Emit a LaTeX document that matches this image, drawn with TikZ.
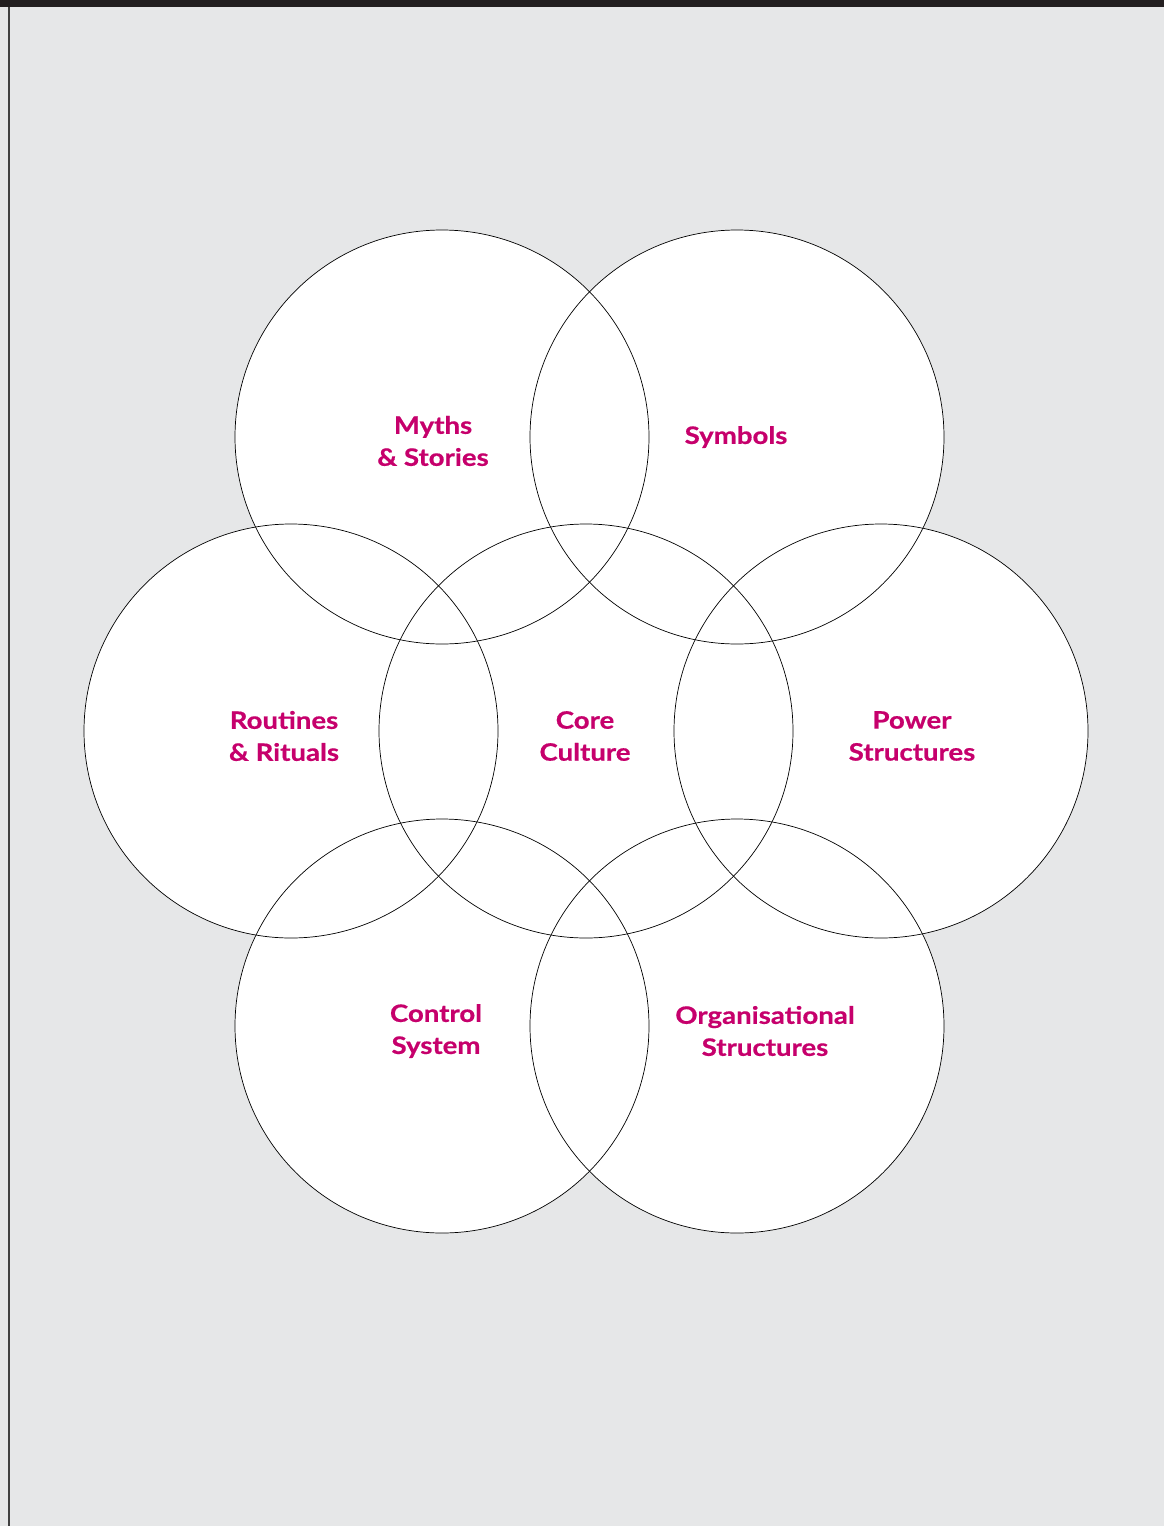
\documentclass[tikz,border=0pt]{standalone}
\usepackage{fontspec}
\setmainfont{Lato}[BoldFeatures={FakeStretch=1.15,FakeBold=0.6}]
\definecolor{pagegrey}{HTML}{E6E7E8}
\definecolor{barblack}{HTML}{231F20}
\definecolor{labelmagenta}{RGB}{198,0,108}
\begin{document}
\begin{tikzpicture}[x=1pt,y=-1pt,
  ringline/.style={draw=black, line width=0.7pt},
  label/.style={text=labelmagenta, font=\fontsize{24}{32}\selectfont\bfseries, align=center}]
  % page background and frame
  \fill[pagegrey] (0,0) rectangle (1164,1526);
  \useasboundingbox (0,0) rectangle (1164,1526);
  \fill[barblack] (0,0) rectangle (1164,7);
  \fill[black!75] (7.5,7) rectangle (9.5,1526);
  % circle centres
  \coordinate (cmyth) at (442,437);
  \coordinate (csym)  at (737,437);
  \coordinate (crout) at (291,731);
  \coordinate (ccore) at (586,731);
  \coordinate (cpow)  at (881,731);
  \coordinate (cctrl) at (442,1026);
  \coordinate (corg)  at (737,1026);
  % white discs first, outlines on top
  \foreach \c in {cmyth,csym,crout,ccore,cpow,cctrl,corg}
    \fill[white] (\c) circle[radius=207];
  \foreach \c in {cmyth,csym,crout,ccore,cpow,cctrl,corg}
    \draw[ringline] (\c) circle[radius=207];
  % labels
  \node[label] (myth) at (433,441) {Myths\\\& Stories};
  \node[label] (sym)  at (736,437) {Symbols};
  \node[label] (rout) at (284,736) {Routines\\\& Rituals};
  \node[label] (core) at (585,736) {Core\\Culture};
  \node[label] (pow)  at (912,736) {Power\\Structures};
  \node[label] (ctrl) at (436,1031) {Control\\System};
  \node[label] (org)  at (765,1031) {Organisational\\Structures};
\end{tikzpicture}
\end{document}
